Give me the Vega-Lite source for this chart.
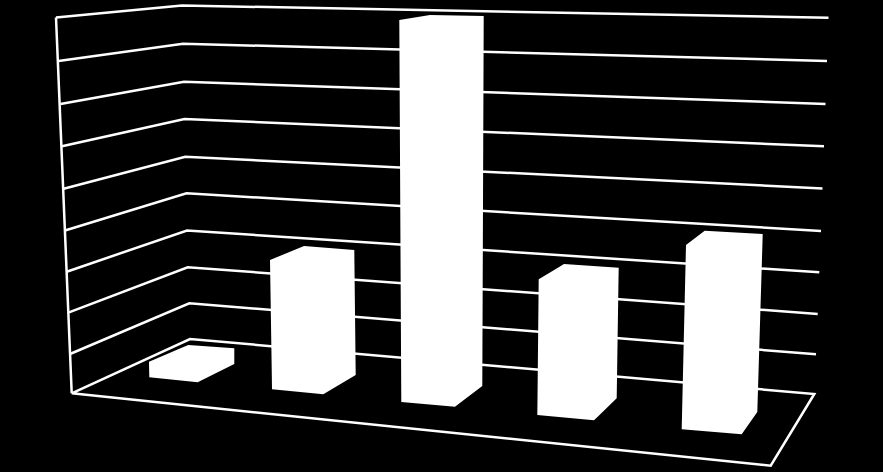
{
  "$schema": "https://vega.github.io/schema/vega-lite/v6.json",
  "width": 883,
  "height": 472,
  "padding": 0,
  "autosize": {"type": "fit", "contains": "padding"},
  "background": "black",
  "config": {"view": {"stroke": null}},
  "datasets": {
    "grid": [
      {"line": "g1", "pt": 1, "x": 56, "y": 17.5}, {"line": "g1", "pt": 2, "x": 182, "y": 5.5}, {"line": "g1", "pt": 3, "x": 828.5, "y": 17.7},
      {"line": "g2", "pt": 1, "x": 58.5, "y": 61}, {"line": "g2", "pt": 2, "x": 183, "y": 43.7}, {"line": "g2", "pt": 3, "x": 827, "y": 61},
      {"line": "g3", "pt": 1, "x": 60.5, "y": 104}, {"line": "g3", "pt": 2, "x": 184, "y": 81.7}, {"line": "g3", "pt": 3, "x": 825.5, "y": 104},
      {"line": "g4", "pt": 1, "x": 62, "y": 146.3}, {"line": "g4", "pt": 2, "x": 184.5, "y": 119}, {"line": "g4", "pt": 3, "x": 824, "y": 146.3},
      {"line": "g5", "pt": 1, "x": 63.7, "y": 188.7}, {"line": "g5", "pt": 2, "x": 185.3, "y": 156.7}, {"line": "g5", "pt": 3, "x": 822.5, "y": 188.5},
      {"line": "g6", "pt": 1, "x": 65, "y": 230.5}, {"line": "g6", "pt": 2, "x": 186.5, "y": 193.3}, {"line": "g6", "pt": 3, "x": 821, "y": 231},
      {"line": "g7", "pt": 1, "x": 66.7, "y": 271.7}, {"line": "g7", "pt": 2, "x": 187, "y": 230.5}, {"line": "g7", "pt": 3, "x": 819.3, "y": 272.3},
      {"line": "g8", "pt": 1, "x": 68.3, "y": 312.7}, {"line": "g8", "pt": 2, "x": 187.7, "y": 267.3}, {"line": "g8", "pt": 3, "x": 817.7, "y": 314},
      {"line": "g9", "pt": 1, "x": 70, "y": 354}, {"line": "g9", "pt": 2, "x": 189.3, "y": 303.3}, {"line": "g9", "pt": 3, "x": 816, "y": 354.3},
      {"line": "floor", "pt": 1, "x": 71.7, "y": 393.3}, {"line": "floor", "pt": 2, "x": 190, "y": 339}, {"line": "floor", "pt": 3, "x": 814.3, "y": 394}, {"line": "floor", "pt": 4, "x": 770.7, "y": 465.7}, {"line": "floor", "pt": 5, "x": 71.7, "y": 393.3},
      {"line": "wall", "pt": 1, "x": 56, "y": 17.5}, {"line": "wall", "pt": 2, "x": 71.7, "y": 393.3}
    ],
    "bars": [
      {"bar": "b1", "y": 345, "left": 188.3, "right": 188.3},
      {"bar": "b1", "y": 348.3, "left": 180.5, "right": 234.3},
      {"bar": "b1", "y": 361.7, "left": 149, "right": 234.3},
      {"bar": "b1", "y": 364, "left": 149, "right": 234.3},
      {"bar": "b1", "y": 377.3, "left": 149.3, "right": 207.7},
      {"bar": "b1", "y": 382.3, "left": 197.7, "right": 197.7},
      {"bar": "b2", "y": 246, "left": 304, "right": 304},
      {"bar": "b2", "y": 250, "left": 294.3, "right": 354.3},
      {"bar": "b2", "y": 260, "left": 270, "right": 354.4},
      {"bar": "b2", "y": 375, "left": 271.8, "right": 355.7},
      {"bar": "b2", "y": 389.3, "left": 272, "right": 331.7},
      {"bar": "b2", "y": 394.3, "left": 323.3, "right": 323.3},
      {"bar": "b3", "y": 15, "left": 430, "right": 430},
      {"bar": "b3", "y": 16, "left": 423.9, "right": 483.7},
      {"bar": "b3", "y": 20, "left": 399.3, "right": 483.7},
      {"bar": "b3", "y": 386, "left": 401.2, "right": 482.3},
      {"bar": "b3", "y": 402, "left": 401.3, "right": 461.2},
      {"bar": "b3", "y": 406.7, "left": 455, "right": 455},
      {"bar": "b4", "y": 264, "left": 564, "right": 564},
      {"bar": "b4", "y": 267.7, "left": 557.9, "right": 618.7},
      {"bar": "b4", "y": 279.3, "left": 538.7, "right": 618.5},
      {"bar": "b4", "y": 398.3, "left": 537.5, "right": 616.7},
      {"bar": "b4", "y": 415, "left": 537.3, "right": 599.5},
      {"bar": "b4", "y": 420.3, "left": 594, "right": 594},
      {"bar": "b5", "y": 230.7, "left": 704.7, "right": 704.7},
      {"bar": "b5", "y": 234, "left": 700.4, "right": 762.7},
      {"bar": "b5", "y": 245, "left": 686, "right": 762.4},
      {"bar": "b5", "y": 412, "left": 682.1, "right": 757.3},
      {"bar": "b5", "y": 429.3, "left": 681.7, "right": 745.2},
      {"bar": "b5", "y": 434.3, "left": 741.7, "right": 741.7}
    ]
  },
  "layer": [
    {
      "data": {"name": "grid"},
      "mark": {"type": "line", "color": "white", "strokeWidth": 2.5, "strokeJoin": "miter"},
      "encoding": {
        "x": {"field": "x", "type": "quantitative", "axis": null, "scale": {"domain": [0, 883], "nice": false, "zero": false}},
        "y": {"field": "y", "type": "quantitative", "axis": null, "scale": {"domain": [0, 472], "reverse": true, "nice": false, "zero": false}},
        "detail": {"field": "line"},
        "order": {"field": "pt", "type": "quantitative"}
      }
    },
    {
      "data": {"name": "bars"},
      "mark": {"type": "area", "orient": "horizontal", "color": "white"},
      "encoding": {
        "y": {"field": "y", "type": "quantitative", "axis": null, "scale": {"domain": [0, 472], "reverse": true, "nice": false, "zero": false}},
        "x": {"field": "left", "type": "quantitative", "axis": null, "stack": null, "scale": {"domain": [0, 883], "nice": false, "zero": false}},
        "x2": {"field": "right"},
        "detail": {"field": "bar"}
      }
    }
  ]
}
